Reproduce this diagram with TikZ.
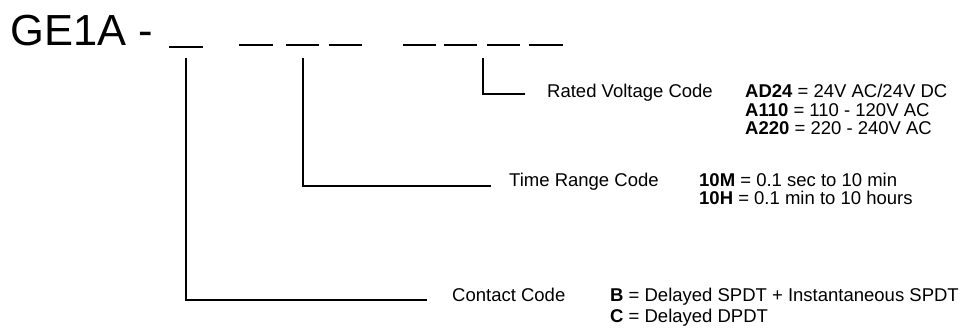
\documentclass[tikz,border=0pt]{standalone}
\usepackage{fontspec}
\setmainfont{Liberation Sans}
\begin{document}
\begin{tikzpicture}[x=1pt,y=-1pt,
  lbl/.style={anchor=base west, inner sep=0pt, font=\fontsize{18.5}{18.5}\selectfont},
  slot/.style={line width=2pt},
  lead/.style={line width=1.8pt}]
\useasboundingbox (0,0) rectangle (967,328);
\node[anchor=base west, inner sep=0pt, font=\fontsize{43.5}{44}\selectfont] (title) at (10,46) {GE1A -};
% code slots
\draw[slot] (169,47) -- (203,47);
\draw[slot] (239,45) -- (273,45);
\draw[slot] (286,45) -- (319,45);
\draw[slot] (329,45) -- (362,45);
\draw[slot] (403,45) -- (436,45);
\draw[slot] (444,45) -- (477,45);
\draw[slot] (487,45) -- (520,45);
\draw[slot] (529,45) -- (563,45);
% labels
\node[lbl] (rated) at (547,98) {Rated Voltage Code};
\node[lbl] (v1) at (745,98) {\textbf{AD24} = 24V AC/24V DC};
\node[lbl] (v2) at (745,117) {\textbf{A110} = 110 - 120V AC};
\node[lbl] (v3) at (745,135) {\textbf{A220} = 220 - 240V AC};
\node[lbl] (time) at (509,187) {Time Range Code};
\node[lbl] (t1) at (699,187) {\textbf{10M} = 0.1 sec to 10 min};
\node[lbl] (t2) at (699,205) {\textbf{10H} = 0.1 min to 10 hours};
\node[lbl] (contact) at (452,302) {Contact Code};
\node[lbl] (k1) at (610,302) {\textbf{B} = Delayed SPDT + Instantaneous SPDT};
\node[lbl] (k2) at (610,323) {\textbf{C} = Delayed DPDT};
% leader lines
\coordinate (rtop) at (483,58);
\coordinate (rend) at (525,94);
\coordinate (ttop) at (303,58);
\coordinate (tend) at (491,186);
\coordinate (ctop) at (186,58);
\coordinate (cend) at (427,300);
\draw[lead] (rtop) |- (rend);
\draw[lead] (ttop) |- (tend);
\draw[lead] (ctop) |- (cend);
\end{tikzpicture}
\end{document}
